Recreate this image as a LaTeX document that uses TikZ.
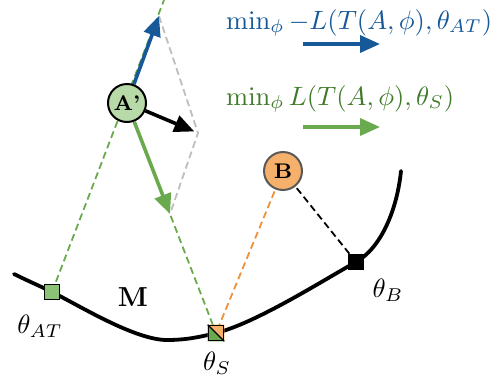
\documentclass[tikz,border=0pt]{standalone}
\usetikzlibrary{arrows.meta,calc}
\definecolor{cblue}{RGB}{22,88,152}
\definecolor{cgreentxt}{RGB}{62,122,40}
\definecolor{cgreen}{RGB}{106,170,78}
\definecolor{cgreenfill}{RGB}{184,218,168}
\definecolor{csqgreen}{RGB}{140,194,118}
\definecolor{corange}{RGB}{236,146,58}
\definecolor{corangefill}{RGB}{245,176,107}
\definecolor{cgray}{RGB}{190,190,190}
\newcommand{\mysc}[1]{\scalebox{2.65}{#1}}
\tikzset{
  dsh/.style={line width=1.8pt, dash pattern=on 7pt off 4pt},
  arr/.style={line width=3.6pt, -{Triangle[length=20pt,width=17pt]}},
  circ/.style={circle, minimum size=38pt, inner sep=0pt, line width=2pt},
  sq/.style={rectangle, minimum size=15pt, inner sep=0pt, line width=1.6pt, draw=black},
  lbl/.style={inner sep=0pt},
}
\begin{document}
\begin{tikzpicture}[x=1pt,y=-1pt]
\useasboundingbox (0,0) rectangle (495,386);
% coordinates
\coordinate (c0) at (14,274);
\coordinate (pAT) at (52,292);
\coordinate (c3) at (167,340);
\coordinate (pS) at (216,333);
\coordinate (pB) at (356,262);
\coordinate (c8) at (401,171);
\coordinate (topG) at (164,0);
\coordinate (btip) at (159,16);
\coordinate (gtip) at (170,214);
\coordinate (sumv) at (198,133);
\path (127,103) coordinate (Ac);
\path (283,171) coordinate (Bc);
% dashed lines
\draw[dsh, cgreen] (pAT) -- (topG);
\draw[dsh, cgreen] (Ac) -- (pS);
\draw[dsh, corange] (Bc) -- (pS);
\draw[dsh, black] (Bc) -- (pB);
\draw[dsh, cgray] (btip) -- (sumv) -- (gtip);
% circles
\node[circ, draw=black, fill=cgreenfill] (A) at (Ac) {\mysc{\fontsize{8}{9}\selectfont\bfseries A'}};
\node[circ, draw=black!65, fill=corangefill] (B) at (Bc) {\mysc{\fontsize{8}{9}\selectfont\bfseries B}};
% arrows from A'
\draw[arr, cblue] (A) -- (btip);
\draw[arr, cgreen] (A) -- (gtip);
\draw[arr, black, shorten >=4pt] (A) -- (sumv);
% curve
\draw[line width=3.8pt, line cap=round]
  (c0) .. controls (28,281) and (40,286) .. (pAT)
  .. controls (80,306) and (135,340) .. (c3)
  .. controls (186,340) and (200,337) .. (pS)
  .. controls (256,323) and (322,281) .. (pB)
  .. controls (381,248) and (397,210) .. (c8);
% squares
\node[sq, fill=csqgreen] (sAT) at (pAT) {};
\node[sq, fill=black] (sB) at (pB) {};
\node[sq] (sS) at (pS) {};
\fill[cgreen] (sS.north west) -- (sS.south west) -- (sS.south east) -- cycle;
\fill[corangefill] (sS.north west) -- (sS.north east) -- (sS.south east) -- cycle;
\draw[line width=1.2pt] (sS.north west) -- (sS.south east);
\node[sq] at (pS) {};
% labels
\node[lbl] (lAT) at (40,326) {\mysc{$\theta_{AT}$}};
\node[lbl] (lS) at (217,363) {\mysc{$\theta_{S}$}};
\node[lbl] (lB) at (388,290) {\mysc{$\theta_{B}$}};
\node[lbl] (M) at (133,297) {\scalebox{2.75}{\bfseries M}};
% legend
\node[lbl, text=cblue, anchor=base west] (t1) at (226,29) {\mysc{$\min_{\phi} -L(T(A,\phi),\theta_{AT})$}};
\node[lbl, text=cgreentxt, anchor=base west] (t2) at (226,105) {\mysc{$\min_{\phi} L(T(A,\phi),\theta_{S})$}};
\coordinate (a1s) at (303,44);
\coordinate (a1e) at (380,44);
\coordinate (a2s) at (303,127);
\coordinate (a2e) at (380,127);
\draw[arr, cblue] (a1s) -- (a1e);
\draw[arr, cgreen] (a2s) -- (a2e);
\end{tikzpicture}
\end{document}
